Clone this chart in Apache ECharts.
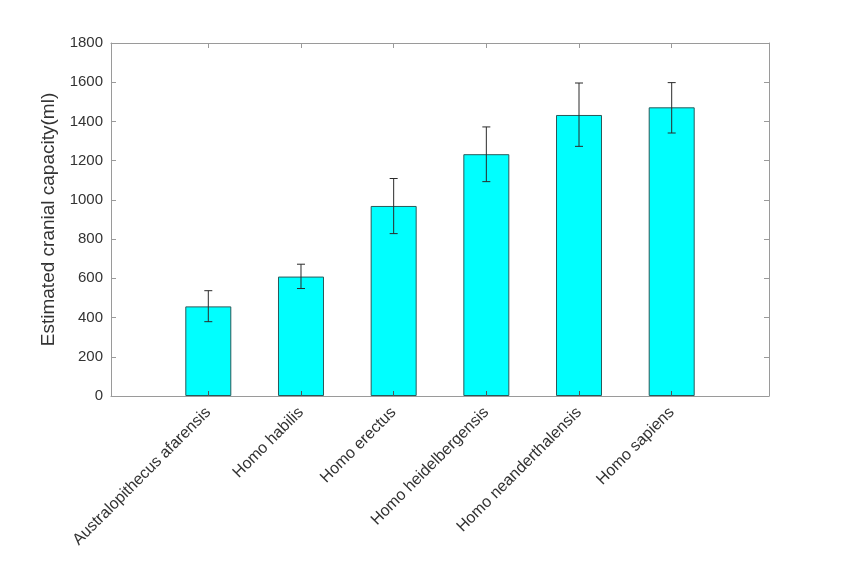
<!DOCTYPE html>
<html>
<head>
<meta charset="utf-8">
<script src="https://cdn.jsdelivr.net/npm/echarts@6/dist/echarts.min.js"></script>
<style>
  html, body { margin: 0; padding: 0; background: #fff; }
  #main { width: 850px; height: 562px; }
</style>
</head>
<body>
<div id="main"></div>
<script>
// species along the x axis, in order
var species = ['Australopithecus afarensis', 'Homo habilis', 'Homo erectus',
  'Homo heidelbergensis', 'Homo neanderthalensis', 'Homo sapiens'];
// mean capacity (ml) and error bar ends
var capacity = [457, 609, 969, 1233, 1433, 1472];
var errLow = [379, 548, 828, 1093, 1273, 1341];
var errHigh = [537, 672, 1109, 1372, 1596, 1598];

var positions = species.map(function (s, i) { return i + 1; });
var barData = capacity.map(function (v, i) { return [positions[i], v]; });
var errData = errLow.map(function (v, i) { return [positions[i], v, errHigh[i]]; });

var axisGray = '#9a9a9a';
var textColor = '#333';
var font = 'Liberation Sans, Arial, sans-serif';

var myChart = echarts.init(document.getElementById('main'));
var option = {
  animation: false,
  backgroundColor: '#fff',
  grid: { left: 111, top: 43, right: 81, bottom: 166 },
  xAxis: [
    {
      type: 'value', min: -0.05, max: 7.05, z: 10,
      axisLine: { show: true, onZero: false, lineStyle: { color: axisGray, width: 1 } },
      axisTick: { show: true, inside: true, length: 5, customValues: positions, lineStyle: { color: '#555' } },
      axisLabel: {
        customValues: positions, rotate: 45, margin: 14,
        color: textColor, fontSize: 16, fontFamily: font,
        formatter: function (v) { return species[Math.round(v) - 1] || ''; }
      },
      splitLine: { show: false }
    },
    {
      type: 'value', position: 'top', min: -0.05, max: 7.05, z: 10,
      axisLine: { show: true, onZero: false, lineStyle: { color: axisGray, width: 1 } },
      axisTick: { show: true, inside: true, length: 5, customValues: positions, lineStyle: { color: axisGray } },
      axisLabel: { show: false },
      splitLine: { show: false }
    }
  ],
  yAxis: [
    {
      type: 'value', min: 0, max: 1800, interval: 200, z: 10,
      name: 'Estimated cranial capacity(ml)',
      nameLocation: 'middle', nameGap: 52,
      nameTextStyle: { color: textColor, fontSize: 19, fontFamily: font },
      axisLine: { show: true, onZero: false, lineStyle: { color: axisGray, width: 1 } },
      axisTick: { show: true, inside: true, length: 5, lineStyle: { color: axisGray } },
      axisLabel: {
        color: textColor, fontSize: 15, fontFamily: font, margin: 8,
        formatter: function (v) { return String(v); }
      },
      splitLine: { show: false }
    },
    {
      type: 'value', position: 'right', min: 0, max: 1800, interval: 200, z: 10,
      axisLine: { show: true, onZero: false, lineStyle: { color: axisGray, width: 1 } },
      axisTick: { show: true, inside: true, length: 5, lineStyle: { color: axisGray } },
      axisLabel: { show: false },
      splitLine: { show: false }
    }
  ],
  series: [
    {
      type: 'bar',
      data: barData,
      barWidth: 46,
      itemStyle: { color: '#00ffff', borderColor: '#2a5a5a', borderWidth: 1 }
    },
    {
      type: 'custom',
      data: errData,
      z: 5,
      renderItem: function (params, api) {
        var x = api.value(0);
        var lo = api.coord([x, api.value(1)]);
        var hi = api.coord([x, api.value(2)]);
        var cap = 4;
        var style = { stroke: '#2b2b2b', lineWidth: 1 };
        return {
          type: 'group',
          children: [
            { type: 'line', shape: { x1: lo[0], y1: lo[1], x2: hi[0], y2: hi[1] }, style: style },
            { type: 'line', shape: { x1: lo[0] - cap, y1: lo[1], x2: lo[0] + cap, y2: lo[1] }, style: style },
            { type: 'line', shape: { x1: hi[0] - cap, y1: hi[1], x2: hi[0] + cap, y2: hi[1] }, style: style }
          ]
        };
      }
    }
  ]
};
option && myChart.setOption(option);
</script>
</body>
</html>
